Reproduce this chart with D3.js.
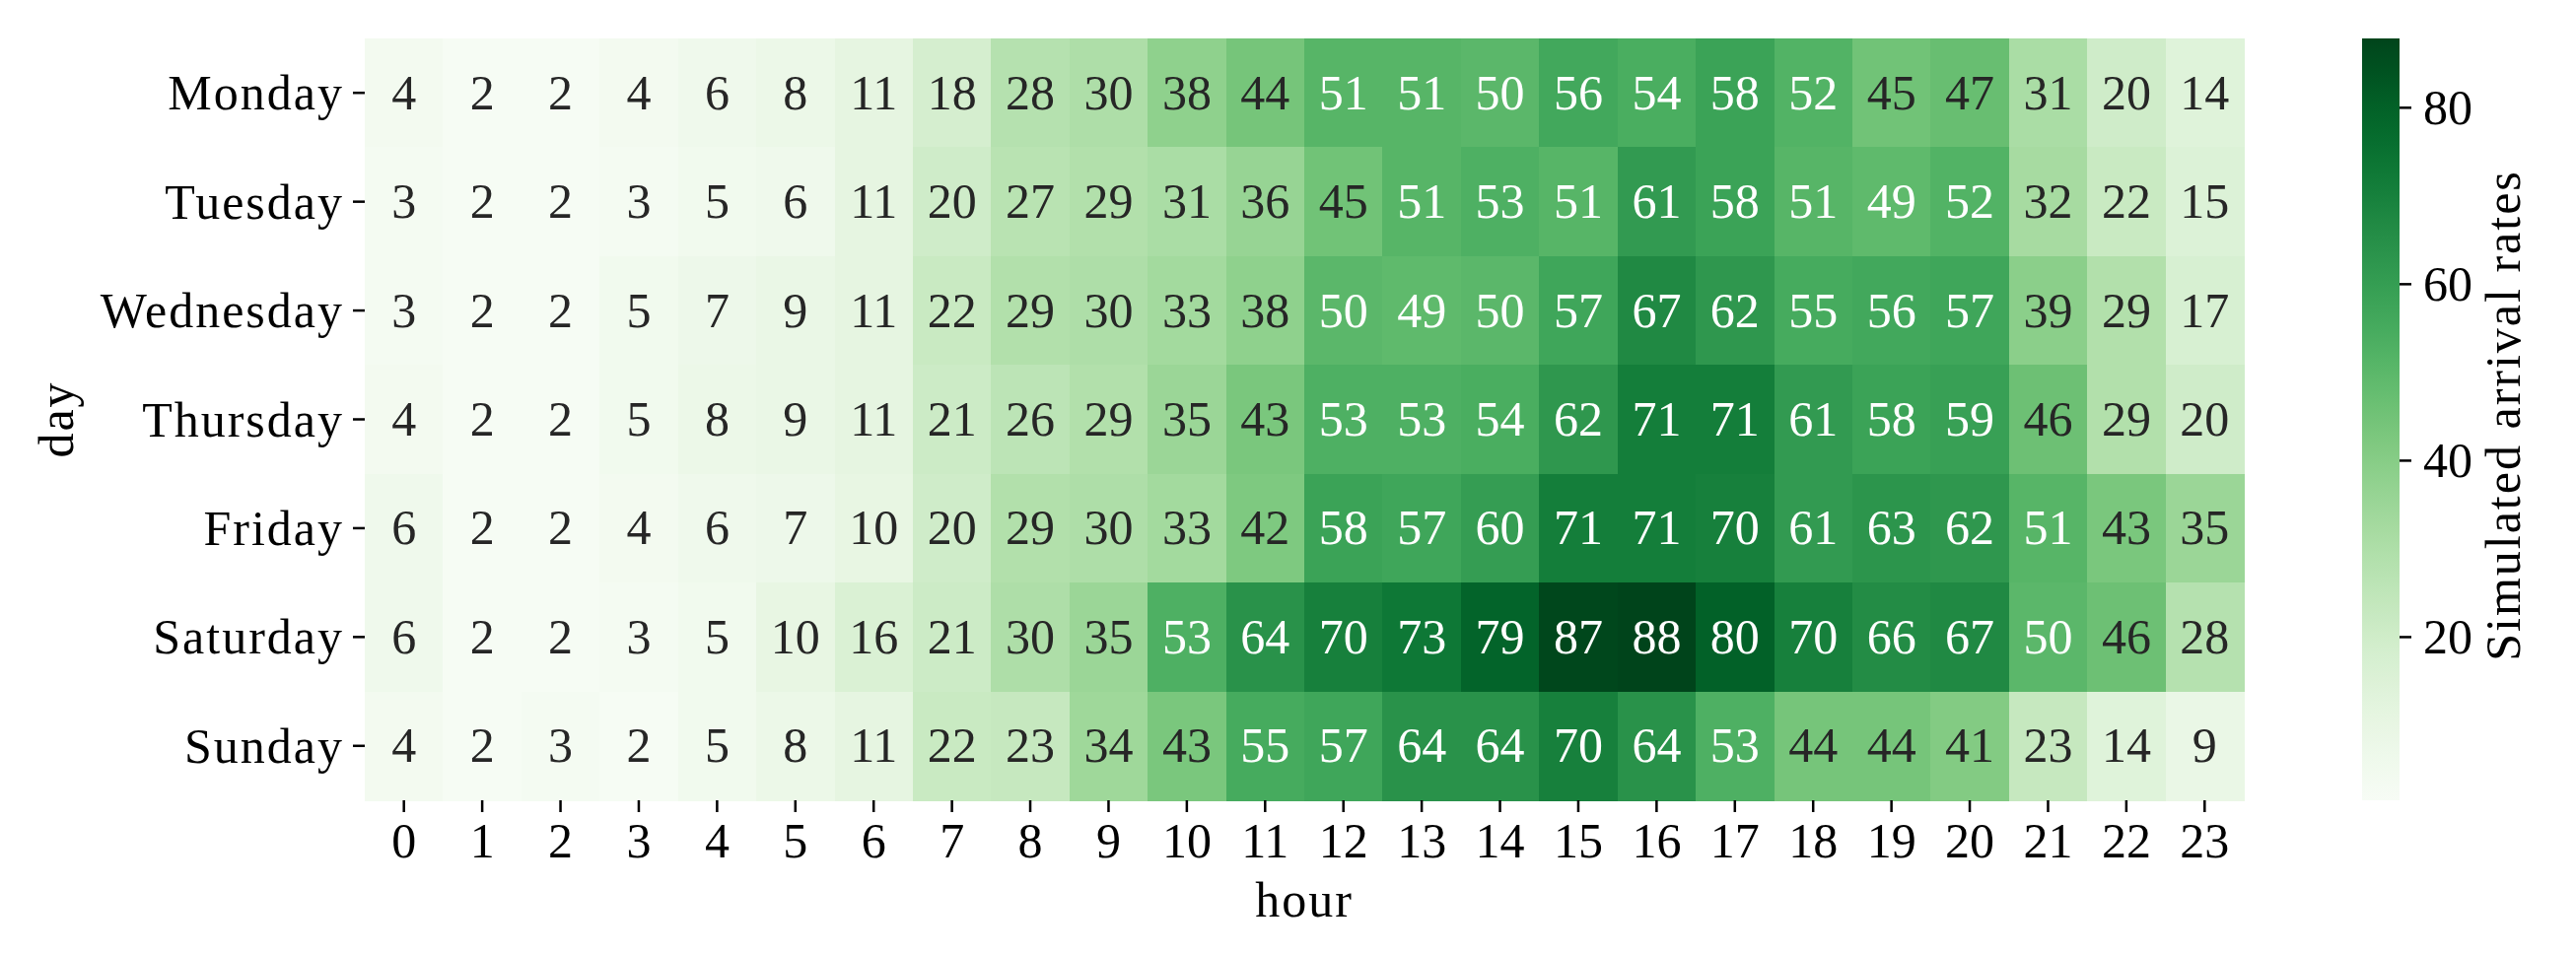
<!DOCTYPE html>
<html>
<head>
<meta charset="utf-8">
<script src="https://cdn.jsdelivr.net/npm/d3@7"></script>
<style>
  html, body { margin: 0; padding: 0; background: #fff; }
  svg { display: block; }
  text { font-family: "Liberation Serif", "DejaVu Serif", serif; fill: #000; }
</style>
</head>
<body>
<svg id="chart" width="2613" height="969"></svg>
<script>
const days = ["Monday", "Tuesday", "Wednesday", "Thursday", "Friday", "Saturday", "Sunday"];
const hours = d3.range(0, 24);
const monday    = [4, 2, 2, 4, 6, 8, 11, 18, 28, 30, 38, 44, 51, 51, 50, 56, 54, 58, 52, 45, 47, 31, 20, 14];
const tuesday   = [3, 2, 2, 3, 5, 6, 11, 20, 27, 29, 31, 36, 45, 51, 53, 51, 61, 58, 51, 49, 52, 32, 22, 15];
const wednesday = [3, 2, 2, 5, 7, 9, 11, 22, 29, 30, 33, 38, 50, 49, 50, 57, 67, 62, 55, 56, 57, 39, 29, 17];
const thursday  = [4, 2, 2, 5, 8, 9, 11, 21, 26, 29, 35, 43, 53, 53, 54, 62, 71, 71, 61, 58, 59, 46, 29, 20];
const friday    = [6, 2, 2, 4, 6, 7, 10, 20, 29, 30, 33, 42, 58, 57, 60, 71, 71, 70, 61, 63, 62, 51, 43, 35];
const saturday  = [6, 2, 2, 3, 5, 10, 16, 21, 30, 35, 53, 64, 70, 73, 79, 87, 88, 80, 70, 66, 67, 50, 46, 28];
const sunday    = [4, 2, 3, 2, 5, 8, 11, 22, 23, 34, 43, 55, 57, 64, 64, 70, 64, 53, 44, 44, 41, 23, 14, 9];
const colorTicks = [20, 40, 60, 80];
const colorDomain = [1.45, 87.8];
const xLabel = "hour";
const yLabel = "day";
const cbLabel = "Simulated arrival rates";

const rows = [monday, tuesday, wednesday, thursday, friday, saturday, sunday];
const cells = [];
rows.forEach((r, i) => r.forEach((v, h) => cells.push({ day: days[i], hour: h, value: v })));

const svg = d3.select("#chart");
const L = 370, R = 2276, T = 39, B = 812;
const FS = 50;
const LS = "2px";

const x = d3.scaleBand().domain(hours).range([L, R]);
const y = d3.scaleBand().domain(days).range([T, B]);
const color = d3.scaleSequential(d3.interpolateGreens).domain(colorDomain);

function lum(c) {
  const rgb = d3.rgb(c);
  const f = v => { v /= 255; return v <= 0.03928 ? v / 12.92 : Math.pow((v + 0.055) / 1.055, 2.4); };
  return 0.2126 * f(rgb.r) + 0.7152 * f(rgb.g) + 0.0722 * f(rgb.b);
}

svg.append("g").selectAll("rect").data(cells).join("rect")
  .attr("x", d => x(d.hour)).attr("y", d => y(d.day))
  .attr("width", x.bandwidth() + 0.5).attr("height", y.bandwidth() + 0.5)
  .attr("shape-rendering", "crispEdges")
  .attr("fill", d => color(d.value));

svg.append("g").selectAll("text").data(cells).join("text")
  .attr("x", d => x(d.hour) + x.bandwidth() / 2)
  .attr("y", d => y(d.day) + y.bandwidth() / 2)
  .attr("dy", "0.33em")
  .attr("text-anchor", "middle")
  .style("font-size", FS + "px")
  .style("fill", d => lum(color(d.value)) < 0.408 ? "#ffffff" : "#262626")
  .text(d => d3.format(".0f")(d.value));

// x axis
const xAxis = d3.axisBottom(x).tickSize(12).tickPadding(10);
const gx = svg.append("g").attr("transform", `translate(0,${B})`).call(xAxis);
gx.select(".domain").remove();
gx.selectAll(".tick line").attr("stroke", "#000").attr("stroke-width", 2.5);
gx.selectAll(".tick text").attr("font-family", null).style("font-size", FS + "px").attr("dy", "0.72em").attr("fill", "#000");

// y axis
const yAxis = d3.axisLeft(y).tickSize(12).tickPadding(9);
const gy = svg.append("g").attr("transform", `translate(${L},0)`).call(yAxis);
gy.select(".domain").remove();
gy.selectAll(".tick line").attr("stroke", "#000").attr("stroke-width", 2.5);
gy.selectAll(".tick text").attr("font-family", null).style("font-size", FS + "px")
  .style("letter-spacing", LS).attr("dy", "0.34em").attr("fill", "#000");

svg.append("text").attr("x", (L + R) / 2).attr("y", 930)
  .attr("text-anchor", "middle").style("font-size", FS + "px").style("letter-spacing", LS).text(xLabel);
svg.append("text").attr("transform", `translate(74,${(T + B) / 2}) rotate(-90)`)
  .attr("text-anchor", "middle").style("font-size", FS + "px").style("letter-spacing", LS).text(yLabel);

// colorbar
const CL = 2396, CR = 2434;
const cy = d3.scaleLinear().domain(colorDomain).range([B, T]);
const defs = svg.append("defs");
const grad = defs.append("linearGradient").attr("id", "cbgrad")
  .attr("x1", 0).attr("y1", 1).attr("x2", 0).attr("y2", 0);
d3.range(0, 1.0001, 0.02).forEach(t => {
  grad.append("stop").attr("offset", t)
    .attr("stop-color", color(colorDomain[0] + t * (colorDomain[1] - colorDomain[0])));
});
svg.append("rect").attr("x", CL).attr("y", T).attr("width", CR - CL).attr("height", B - T)
  .attr("fill", "url(#cbgrad)");

const cAxis = d3.axisRight(cy).tickValues(colorTicks).tickSize(12).tickPadding(12);
const gc = svg.append("g").attr("transform", `translate(${CR},0)`).call(cAxis);
gc.select(".domain").remove();
gc.selectAll(".tick line").attr("stroke", "#000").attr("stroke-width", 2.5);
gc.selectAll(".tick text").attr("font-family", null).style("font-size", FS + "px").attr("dy", "0.34em").attr("fill", "#000");

svg.append("text").attr("transform", `translate(2556,${(T + B) / 2 - 4}) rotate(-90)`)
  .attr("text-anchor", "middle").style("font-size", FS + "px").style("letter-spacing", LS).text(cbLabel);
</script>
</body>
</html>
